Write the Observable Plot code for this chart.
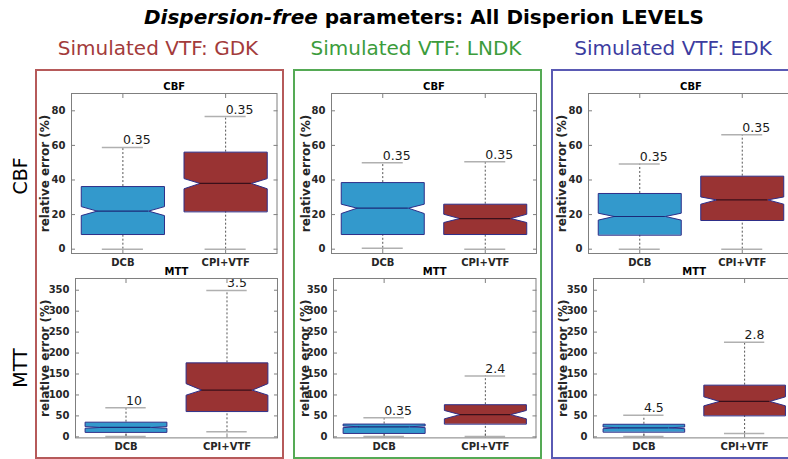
<!DOCTYPE html>
<html><head><meta charset="utf-8">
<script src="https://cdn.jsdelivr.net/npm/d3@7"></script>
<script src="https://cdn.jsdelivr.net/npm/@observablehq/plot@0.6"></script>
<style>
body{margin:0;background:#fff;}
#root{position:relative;width:788px;height:459px;overflow:hidden;background:#fff;font-family:"DejaVu Sans",sans-serif;}
.abs{position:absolute;}
.colhead{position:absolute;font-size:20px;line-height:22px;white-space:nowrap;transform:translateX(-50%);}
.rowlab{position:absolute;font-size:19px;line-height:22px;white-space:nowrap;transform:translate(-50%,-50%) rotate(-90deg);color:#000;}
.frame{position:absolute;box-sizing:border-box;border:2px solid;}
svg{max-width:none !important;}
</style></head><body><div id="root"></div>
<script>
// ---- data ----
const titleItalic = "Dispersion-free";
const titleRest = " parameters: All Disperion LEVELS";
const columnNames = ["Simulated VTF: GDK", "Simulated VTF: LNDK", "Simulated VTF: EDK"];
const rowNames = ["CBF", "MTT"];
const methods = ["DCB", "CPI+VTF"];
const cbfTicks = [0, 20, 40, 60, 80];
const mttTicks = [0, 50, 100, 150, 200, 250, 300, 350];
const yLabel = "relative error (%)";
// panel order: GDK-CBF, GDK-MTT, LNDK-CBF, LNDK-MTT, EDK-CBF, EDK-MTT ; each [DCB, CPI+VTF]
const whiskerLow  = [[0, 0], [1, 12], [0.5, 0], [1, 1], [0, 0], [1, 8]];
const q1          = [[8.7, 21.8], [11.5, 61.3], [8.7, 8.7], [9, 31.2], [8.3, 16.8], [12, 51]];
const notchLow    = [[19.4, 34.9], [20.5, 99.5], [20.6, 15.4], [22, 43], [16.8, 26], [19.5, 74]];
const median      = [[22, 38], [22.4, 111.5], [23.7, 17.7], [24, 53], [18.9, 28.5], [21.5, 84.5]];
const notchHigh   = [[24.6, 40.8], [24.5, 127], [26, 20.2], [26, 63], [20.8, 30.2], [23.5, 95.5]];
const q3          = [[36.2, 56.1], [35, 176.6], [38.5, 26], [30.5, 76.7], [32.2, 42.2], [30, 123.4]];
const whiskerHigh = [[58.8, 76.7], [69.2, 349.4], [49.9, 50.5], [45.5, 145.5], [49.2, 66.1], [51.8, 226]];
const outlierText = [["0.35", "0.35"], ["10", "3.5"], ["0.35", "0.35"], ["0.35", "2.4"], ["0.35", "0.35"], ["4.5", "2.8"]];

// ---- styles / layout ----
const headColors = ["#a33b3b", "#3c9c3c", "#3c3ca0"];
const frameColors = ["#b65a5a", "#55aa55", "#5a5ab4"];
const boxFill = ["#3399cc", "#993333"];
const medianStroke = ["#1c2a78", "#3a0f1a"];
const panelRect = [ // [left, right, top, bottom] of plot frame
  [71, 276.5, 92.7, 252.7], [75, 277, 278.3, 437.7],
  [330.5, 535.5, 92.7, 252.7], [333, 535.5, 278.3, 437.7],
  [588, 793, 92.7, 252.7], [592.5, 794, 278.3, 437.7]
];
const labelX = [45, 305, 562];

const root = document.getElementById("root");

function addDiv(cls, text, css) {
  const d = document.createElement("div");
  d.className = cls; if (text != null) d.textContent = text;
  Object.assign(d.style, css); root.appendChild(d); return d;
}

// title
const t = addDiv("abs", null, {left: "0px", width: "848px", top: "5px", textAlign: "center", fontSize: "20px", fontWeight: "bold", lineHeight: "24px", color: "#000", whiteSpace: "nowrap"});
const ti = document.createElement("i"); ti.textContent = titleItalic; t.appendChild(ti);
t.appendChild(document.createTextNode(titleRest));

// column frames and headers
const frameLeft = [35, 293, 551];
frameLeft.forEach((x, c) => {
  addDiv("frame", null, {left: x + "px", top: "69px", width: (c === 2 ? 260 : 249) + "px", height: "390px", borderColor: frameColors[c]});
});
const headX = [158, 416, 673];
columnNames.forEach((n, c) => addDiv("colhead", n, {left: headX[c] + "px", top: "37px", color: headColors[c]}));
const rowY = [176, 368];
rowNames.forEach((n, r) => addDiv("rowlab", n, {left: "20px", top: rowY[r] + "px"}));

function panel(p) {
  const col = Math.floor(p / 2), row = p % 2;
  const [L, R, T, B] = panelRect[p];
  const mL = 55, mR = 8, mT = 22, mB = 22;
  const hw = 0.405, nw = 0.25, cw = 0.2;
  const rows = methods.map((m, i) => ({
    i: i + 1, m, wlo: whiskerLow[p][i], q1: q1[p][i], nlo: notchLow[p][i], med: median[p][i],
    nhi: notchHigh[p][i], q3: q3[p][i], whi: whiskerHigh[p][i], lab: outlierText[p][i]
  }));
  const boxPts = r => {
    const c = r.i;
    return [
      {x: c - hw, y: r.q1}, {x: c - hw, y: r.nlo}, {x: c - nw, y: r.med}, {x: c - hw, y: r.nhi}, {x: c - hw, y: r.q3},
      {x: c + hw, y: r.q3}, {x: c + hw, y: r.nhi}, {x: c + nw, y: r.med}, {x: c + hw, y: r.nlo}, {x: c + hw, y: r.q1}
    ];
  };
  const ticks = row === 0 ? cbfTicks : mttTicks;
  const axisGray = "#7f7f7f";
  const W = mL + (R - L) + mR, H = mT + (B - T) + mB;
  const chart = Plot.plot({
    width: W, height: H,
    marginLeft: mL, marginRight: mR, marginTop: mT, marginBottom: mB,
    style: {fontFamily: "DejaVu Sans", fontSize: "10px", fontWeight: "bold", color: "#262626", background: "transparent", overflow: "visible", maxWidth: "none"},
    x: {domain: [0.5, 2.5]},
    y: {domain: row === 0 ? [-2.5, 90] : [-2.5, 378]},
    marks: [
      Plot.axisY({ticks, tickSize: 0, tickPadding: 6, label: null}),
      Plot.axisY({ticks, anchor: "left", tickSize: 4, dx: 4, tickFormat: () => "", label: null, stroke: axisGray}),
      Plot.axisY({ticks, anchor: "right", tickSize: 4, dx: -4, tickFormat: () => "", label: null, stroke: axisGray}),
      Plot.axisX({ticks: [1, 2], tickSize: 0, tickPadding: 5, tickFormat: i => methods[i - 1], label: null}),
      Plot.axisX({ticks: [1, 2], anchor: "bottom", tickSize: 4, dy: -4, tickFormat: () => "", label: null, stroke: axisGray}),
      Plot.axisX({ticks: [1, 2], anchor: "top", tickSize: 4, dy: 4, tickFormat: () => "", label: null, stroke: axisGray}),
      Plot.text([rowNames[row]], {frameAnchor: "top", lineAnchor: "middle", dy: -7, fontSize: 10, fontWeight: "bold", fill: "#000"}),
      Plot.text([yLabel], {frameAnchor: "left", textAnchor: "middle", lineAnchor: "middle", dx: labelX[col] - L, rotate: -90, fontSize: 12, fontWeight: "bold", fill: "#262626"}),
      Plot.ruleX(rows, {x: "i", y1: "q3", y2: "whi", stroke: "#555", strokeDasharray: "2,2", strokeWidth: 1}),
      Plot.ruleX(rows, {x: "i", y1: "wlo", y2: "q1", stroke: "#555", strokeDasharray: "2,2", strokeWidth: 1}),
      ...rows.map((r, k) => Plot.line(boxPts(r), {x: "x", y: "y", curve: "linear-closed", fill: boxFill[k], stroke: "#2e2e88", strokeWidth: 1})),
      ...rows.map((r, k) => Plot.ruleY([r], {y: "med", x1: d => d.i - nw, x2: d => d.i + nw, stroke: medianStroke[k], strokeWidth: 1.2})),
      Plot.ruleY(rows, {y: "whi", x1: d => d.i - cw, x2: d => d.i + cw, stroke: "#b0b0b0", strokeWidth: 1.5}),
      Plot.ruleY(rows, {y: "wlo", x1: d => d.i - cw, x2: d => d.i + cw, stroke: "#b0b0b0", strokeWidth: 1.5}),
      Plot.text(rows, {x: "i", y: "whi", text: "lab", textAnchor: "start", lineAnchor: "bottom", dy: -3, fontSize: 12.5, fontWeight: "normal", fill: "#1a1a1a"}),
      Plot.frame({stroke: axisGray, strokeWidth: 1})
    ]
  });
  const wrap = addDiv("abs", null, {left: (L - mL) + "px", top: (T - mT) + "px", width: W + "px", height: H + "px"});
  wrap.appendChild(chart);
}
for (let p = 0; p < 6; p++) panel(p);
</script>
</body></html>
